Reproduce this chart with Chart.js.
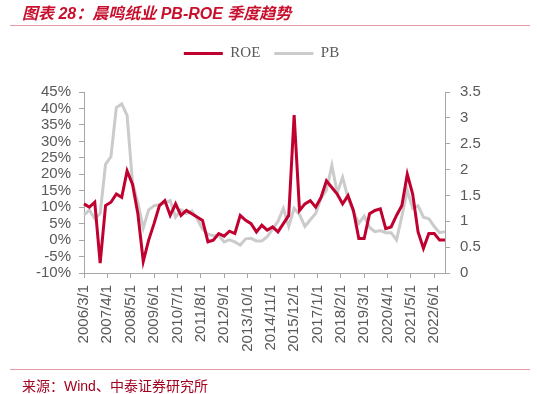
<!DOCTYPE html>
<html>
<head>
<meta charset="utf-8">
<script src="https://cdn.jsdelivr.net/npm/chart.js@4/dist/chart.umd.min.js"></script>
<style>
html,body{margin:0;padding:0;background:#fff;}
#wrap{position:relative;width:537px;height:394px;overflow:hidden;}
#c{position:absolute;left:0;top:0;}
.title{position:absolute;left:22px;top:0px;font:italic bold 16px "Liberation Sans","Noto Sans CJK SC",sans-serif;color:#c8102e;white-space:nowrap;}
.rule{position:absolute;left:10px;width:520px;height:1px;background:#e39aa0;}
.src{position:absolute;left:22px;top:375px;font:14px "Liberation Sans","Noto Sans CJK SC",sans-serif;color:#a3001f;white-space:nowrap;}
</style>
</head>
<body>
<div id="wrap">
  <canvas id="c" width="537" height="394"></canvas>
  <div class="title">图表 28：晨鸣纸业 PB-ROE 季度趋势</div>
  <div class="rule" style="top:25px"></div>
  <div class="rule" style="top:369px"></div>
  <div class="src">来源：Wind、中泰证券研究所</div>
</div>
<script>
// monthly category axis, 2006/3/1 .. 2022/12/1; data is quarterly
const months=[];
for(let y=2006;y<=2022;y++){
  for(let m=(y===2006?3:1);m<=12;m++) months.push(y+'/'+m+'/1');
}
const quarters=months.filter(s=>[3,6,9,12].includes(+s.split('/')[1]));

const roe=[11,10,11.5,-7,10.5,11.5,14,13,21,17,8,-6.5,
  0,5,10.5,12,7.5,11,7.5,9,8,7,6,-0.5,
  0,2,1.2,2.7,2,7.5,6,5,2.5,4.5,3,4,
  2.5,5,7.5,38,9,11,12,10,13,18,16,14,
  11,13.5,9,0.5,0.5,8,9,9.5,3.5,4,7.5,10.5,
  20,14,2.5,-2.5,2,2,0,0];
const pb=[1.12,1.22,1.05,1.15,2.1,2.25,3.2,3.27,3.05,1.75,1.35,0.87,
  1.22,1.3,1.32,1.35,1.4,1.08,1.22,1.15,1.2,1.05,0.85,0.75,
  0.72,0.73,0.6,0.64,0.6,0.54,0.66,0.67,0.62,0.62,0.7,0.85,
  1.0,1.25,0.9,1.25,1.13,0.9,1.03,1.15,1.45,1.6,2.08,1.55,
  1.85,1.45,1.18,0.96,1.1,0.88,0.8,0.82,0.78,0.78,0.64,1.1,
  1.6,1.25,1.3,1.08,1.05,0.9,0.78,0.8];

const axisGrey='#a6a6a6', txtGrey='#595959';
const tickFont={family:'Liberation Sans',size:15};

const legendTweak={
  id:'legendTweak',
  beforeInit(chart){
    const fit=chart.legend.fit;
    chart.legend.fit=function(){ fit.call(this); this.height+=21; };
  },
  afterLayout(chart){ chart.legend.left-=7; chart.legend.right-=7; }
};

const ctx=document.getElementById('c').getContext('2d');
new Chart(ctx,{
  type:'line',
  data:{labels:months,datasets:[
    {label:'ROE',data:quarters.map((q,i)=>({x:q,y:roe[i]})),yAxisID:'y',borderColor:'#c0002f',backgroundColor:'#c0002f',borderWidth:3,pointRadius:0,tension:0},
    {label:'PB',data:quarters.map((q,i)=>({x:q,y:pb[i]})),yAxisID:'y1',borderColor:'#cbcbcb',backgroundColor:'#cbcbcb',borderWidth:3,pointRadius:0,tension:0}
  ]},
  options:{
    responsive:false,animation:false,
    layout:{padding:{top:32,left:0,right:0,bottom:0}},
    plugins:{
      legend:{position:'top',labels:{usePointStyle:true,pointStyle:'line',pointStyleWidth:39,padding:14,color:txtGrey,font:{family:'Liberation Serif',size:15}}},
      tooltip:{enabled:false}
    },
    scales:{
      x:{offset:false,
        grid:{drawOnChartArea:false,tickLength:5,color:axisGrey},
        border:{color:axisGrey},
        ticks:{autoSkip:false,minRotation:90,maxRotation:90,padding:7,color:txtGrey,font:tickFont,
          callback(v,i){ return i%13===0?this.getLabelForValue(v):null; }},
        afterFit(s){ s.height=121; }},
      y:{position:'left',min:-10,max:45,
        grid:{drawOnChartArea:false,tickLength:5,color:axisGrey},
        border:{color:axisGrey},
        ticks:{stepSize:5,autoSkip:false,padding:8,color:txtGrey,font:tickFont,callback:v=>v+'%'},
        afterFit(s){ s.width=84; }},
      y1:{position:'right',min:0,max:3.5,
        grid:{drawOnChartArea:false,tickLength:5,color:axisGrey},
        border:{color:axisGrey},
        ticks:{stepSize:0.5,autoSkip:false,padding:10,color:txtGrey,font:tickFont,callback:v=>String(+v.toFixed(1))},
        afterFit(s){ s.width=92; }}
    }
  },
  plugins:[legendTweak]
});
</script>
</body>
</html>
